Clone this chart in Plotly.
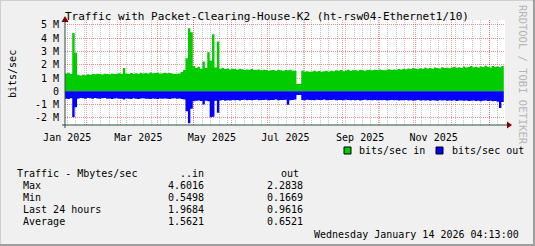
import plotly.graph_objects as go
import pandas as pd

# ---------------- data (Mbit/s, 2-day steps) ----------------
in_vals = [
    1.35, 1.40, 1.30, 4.40, 2.90, 1.25, 1.20, 1.25, 1.22, 1.28,
    1.25, 1.30, 1.28, 1.32, 1.30, 1.27, 1.33, 1.30, 1.28, 1.35,
    1.30, 1.33, 1.36, 1.32, 1.75, 1.35, 1.30, 1.38, 1.33, 1.36,
    1.32, 1.40, 1.35, 1.38, 1.34, 1.42, 1.36, 1.38, 1.40, 1.35,
    1.37, 1.40, 1.36, 1.38, 1.34, 1.30, 1.32, 1.35, 1.45, 1.60,
    2.50, 4.75, 4.45, 1.90, 1.75, 1.85, 1.70, 2.25, 1.75, 2.95,
    2.30, 4.30, 1.80, 3.75, 1.70, 1.75, 1.68, 1.72, 1.65, 1.70,
    1.68, 1.62, 1.70, 1.66, 1.60, 1.65, 1.63, 1.68, 1.60, 1.62,
    1.65, 1.58, 1.62, 1.60, 1.55, 1.58, 1.60, 1.56, 1.62, 1.58,
    1.55, 1.60, 1.58, 1.62, 1.57, 1.55, 0.55, 0.55, 1.55, 1.50,
    1.52, 1.48, 1.50, 1.55, 1.50, 1.53, 1.48, 1.52, 1.55, 1.50,
    1.55, 1.52, 1.58, 1.55, 1.60, 1.52, 1.57, 1.62, 1.55, 1.58,
    1.60, 1.56, 1.62, 1.58, 1.55, 1.60, 1.63, 1.58, 1.62, 1.60,
    1.65, 1.60, 1.58, 1.62, 1.66, 1.60, 1.64, 1.62, 1.68, 1.65,
    1.70, 1.66, 1.72, 1.68, 1.75, 1.70, 1.66, 1.74, 1.70, 1.78,
    1.72, 1.76, 1.70, 1.80, 1.75, 1.72, 1.82, 1.76, 1.78, 1.74,
    1.80, 1.85, 1.78, 1.82, 1.76, 1.88, 1.80, 1.84, 1.90, 1.82,
    1.86, 1.80, 1.88, 1.84, 1.92, 1.85, 1.80, 1.90, 1.86, 1.88,
    1.82, 1.90, 1.88,
]
out_vals = [
    0.55, 0.58, 0.52, 1.95, 1.20, 0.55, 0.50, 0.52, 0.55, 0.50,
    0.52, 0.55, 0.50, 0.53, 0.56, 0.52, 0.50, 0.55, 0.53, 0.58,
    0.54, 0.52, 0.56, 0.55, 0.62, 0.53, 0.55, 0.58, 0.52, 0.55,
    0.57, 0.54, 0.52, 0.56, 0.55, 0.58, 0.53, 0.55, 0.57, 0.54,
    0.56, 0.53, 0.55, 0.58, 0.54, 0.52, 0.55, 0.53, 0.58, 0.62,
    1.50, 2.40, 1.30, 0.75, 0.70, 0.68, 0.72, 0.98, 0.70, 0.75,
    1.95, 1.90, 0.70, 1.60, 0.68, 0.65, 0.70, 0.66, 0.68, 0.65,
    0.66, 0.64, 0.68, 0.65, 0.63, 0.66, 0.64, 0.67, 0.65, 0.63,
    0.66, 0.64, 0.65, 0.63, 0.66, 0.64, 0.65, 0.62, 0.66, 0.64,
    0.65, 0.63, 1.00, 0.66, 0.64, 0.62, 0.27, 0.27, 0.64, 0.66,
    0.63, 0.65, 0.64, 0.66, 0.63, 0.65, 0.64, 0.62, 0.66, 0.64,
    0.65, 0.63, 0.66, 0.64, 0.65, 0.67, 0.63, 0.65, 0.66, 0.64,
    0.66, 0.64, 0.68, 0.65, 0.63, 0.66, 0.64, 0.67, 0.65, 0.66,
    0.64, 0.67, 0.65, 0.68, 0.66, 0.64, 0.67, 0.65, 0.68, 0.66,
    0.67, 0.65, 0.68, 0.66, 0.70, 0.67, 0.65, 0.68, 0.66, 0.69,
    0.67, 0.70, 0.66, 0.68, 0.71, 0.67, 0.69, 0.66, 0.70, 0.68,
    0.70, 0.67, 0.72, 0.69, 0.68, 0.71, 0.69, 0.73, 0.70, 0.68,
    0.72, 0.70, 0.74, 0.71, 0.69, 0.73, 0.70, 0.75, 0.72, 0.78,
    1.25, 0.80, 0.72,
]
series_names = ["bits/sec in", "bits/sec out"]
series_colors = ["#00CC00", "#0000FF"]

y_tickvals = [-2, -1, 0, 1, 2, 3, 4, 5]
y_ticktext = ["-2 M", "-1 M", "0", "1 M", "2 M", "3 M", "4 M", "5 M"]

x_label_text = ["Jan 2025", "Mar 2025", "May 2025", "Jul 2025", "Sep 2025", "Nov 2025"]
x_label_months = ["2025-01-01", "2025-03-01", "2025-05-01", "2025-07-01", "2025-09-01", "2025-11-01"]

stat_header = ["Traffic - Mbytes/sec", "..in", "out"]
stat_names = [" Max", " Min", " Last 24 hours", " Average"]
in_stats = ["4.6016", "0.5498", "1.9684", "1.5621"]
out_stats = ["2.2838", "0.1669", "0.9616", "0.6521"]

title_text = "Traffic with Packet-Clearing-House-K2 (ht-rsw04-Ethernet1/10)"
stamp_text = "Wednesday January 14 2026 04:13:00"
watermark = "RRDTOOL / TOBI OETIKER"

# ---------------- figure ----------------
W, H = 535, 246
FONT = "DejaVu Sans Mono"


def px(x):
    return x / W


def py(y):
    return 1 - y / H


t_start = pd.Timestamp("2025-01-14 04:13")
t_end = pd.Timestamp("2026-01-14 04:13")
dates = pd.date_range(t_start, periods=len(in_vals), freq="2D")
month_starts = pd.date_range("2025-02-01", "2026-01-01", freq="MS")
label_pos = [pd.Timestamp(m) + pd.Timedelta(days=15) for m in x_label_months]

fig = go.Figure()
fig.add_trace(go.Scatter(
    x=dates, y=in_vals, mode="lines", fill="tozeroy",
    fillcolor=series_colors[0], line=dict(color=series_colors[0], width=0, shape="hv"),
    showlegend=False, hoverinfo="skip"))
fig.add_trace(go.Scatter(
    x=dates, y=[-v for v in out_vals], mode="lines", fill="tozeroy",
    fillcolor=series_colors[1], line=dict(color=series_colors[1], width=0, shape="hv"),
    showlegend=False, hoverinfo="skip"))
# carrier for the label axis
fig.add_trace(go.Scatter(x=label_pos, y=[None] * len(label_pos), xaxis="x2",
                         mode="markers", showlegend=False, hoverinfo="skip"))

red_grid = "rgba(255,0,0,0.42)"
gray_grid = "rgba(150,150,150,0.55)"
axis_col = "#2C4D43"
arrow_col = "#7F0000"

fig.update_layout(
    width=W, height=H, margin=dict(l=0, r=0, t=0, b=0, autoexpand=False),
    paper_bgcolor="#F0F0F0", plot_bgcolor="#FFFFFF",
    font=dict(family=FONT, size=10, color="#000000"),
    showlegend=False,
    xaxis=dict(
        domain=[px(65), px(505)], range=[t_start, t_end], type="date", automargin=False,
        tickmode="array", tickvals=list(month_starts), showticklabels=False,
        showgrid=True, gridcolor=red_grid, griddash="1px,1px", gridwidth=1,
        ticks="", zeroline=False, showline=False, fixedrange=True,
        minor=dict(tickmode="linear", tick0="2025-01-02", dtick=7 * 86400000,
                   showgrid=True, gridcolor=gray_grid, griddash="1px,1px", ticks=""),
    ),
    xaxis2=dict(
        overlaying="x", anchor="y", side="bottom", range=[t_start, t_end], type="date",
        automargin=False,
        tickmode="array", tickvals=label_pos, ticktext=x_label_text,
        showgrid=False, zeroline=False, showline=False, ticks="outside", ticklen=3,
        tickcolor="rgba(0,0,0,0)", tickfont=dict(family=FONT, size=10, color="#000"),
        fixedrange=True,
    ),
    yaxis=dict(
        domain=[py(125), py(20)], range=[-2.53, 5.37], automargin=False,
        tickmode="array", tickvals=y_tickvals, ticktext=y_ticktext,
        showgrid=True, gridcolor=red_grid, griddash="1px,1px", gridwidth=1,
        zeroline=False, showline=False, ticks="outside", ticklen=3,
        tickcolor="rgba(0,0,0,0)", tickfont=dict(family=FONT, size=10, color="#000"),
        fixedrange=True,
    ),
)

shapes = []
# axis lines
shapes.append(dict(type="line", xref="paper", yref="paper", x0=px(62), x1=px(507),
                   y0=py(125), y1=py(125), line=dict(color=axis_col, width=1)))
shapes.append(dict(type="line", xref="paper", yref="paper", x0=px(65), x1=px(65),
                   y0=py(128), y1=py(20), line=dict(color=axis_col, width=1)))
# arrows
shapes.append(dict(type="path", xref="paper", yref="paper",
                   path=f"M {px(507)} {py(121.5)} L {px(512)} {py(125)} L {px(507)} {py(128.5)} Z",
                   fillcolor=arrow_col, line=dict(color=arrow_col, width=0)))
shapes.append(dict(type="path", xref="paper", yref="paper",
                   path=f"M {px(61.5)} {py(22)} L {px(65)} {py(16)} L {px(68.5)} {py(22)} Z",
                   fillcolor=arrow_col, line=dict(color=arrow_col, width=0)))
# frame shading
shapes.append(dict(type="line", xref="paper", yref="paper", x0=0, x1=1, y0=py(0.5), y1=py(0.5),
                   line=dict(color="#CFCFCF", width=1)))
shapes.append(dict(type="line", xref="paper", yref="paper", x0=px(0.5), x1=px(0.5), y0=0, y1=1,
                   line=dict(color="#CFCFCF", width=1)))
shapes.append(dict(type="line", xref="paper", yref="paper", x0=0, x1=1, y0=py(245), y1=py(245),
                   line=dict(color="#9E9E9E", width=2)))
shapes.append(dict(type="line", xref="paper", yref="paper", x0=px(534), x1=px(534), y0=0, y1=1,
                   line=dict(color="#9E9E9E", width=2)))
# legend squares
for x0, col in zip([344, 436], series_colors):
    shapes.append(dict(type="rect", xref="paper", yref="paper", x0=px(x0), x1=px(x0 + 7),
                       y0=py(154), y1=py(147), fillcolor=col, line=dict(color="#000", width=1)))
fig.update_layout(shapes=shapes)

ann = []


def text(x, y, s, anchor="left", size=10, color="#000", angle=0):
    ann.append(dict(x=px(x), y=py(y), xref="paper", yref="paper", text=s, showarrow=False,
                    xanchor=anchor, yanchor="middle", textangle=angle,
                    font=dict(family=FONT, size=size, color=color)))


text(267, 17, title_text, anchor="center", size=11)
text(12, 74, "bits/sec", anchor="center", size=10, angle=-90)
text(523, 75, watermark, anchor="center", size=10.5, color="#B5B5B5", angle=90)
text(357, 150.5, series_names[0])
text(450, 150.5, series_names[1])
text(15, 173, stat_header[0])
text(206, 173, stat_header[1], anchor="right")
text(279, 173, stat_header[2])
for i, (n, a, b) in enumerate(zip(stat_names, in_stats, out_stats)):
    y = 185.7 + 12 * i
    text(15, y, n.replace(" ", "&nbsp;", 1))
    text(206, y, a, anchor="right")
    text(265, y, b)
text(521, 234, stamp_text, anchor="right")
fig.update_layout(annotations=ann)

fig.write_html("out.html")
